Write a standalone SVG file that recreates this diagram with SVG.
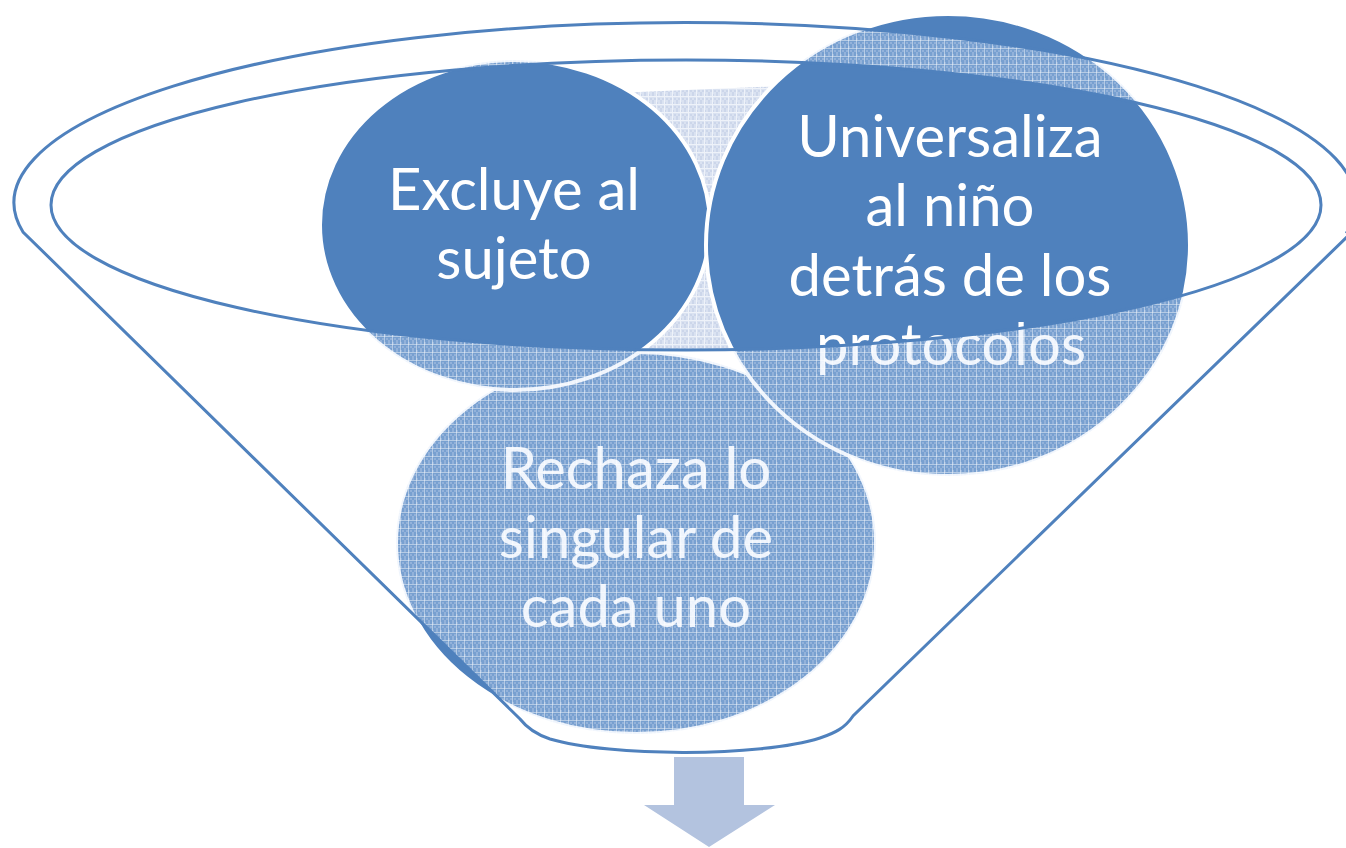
<svg xmlns="http://www.w3.org/2000/svg" width="1346" height="848" viewBox="0 0 1346 848">
<style>
.circle{fill:#4F81BD;stroke:#FFFFFF;stroke-width:4}
.label{font-family:Lato,"Open Sans","Liberation Sans",sans-serif;font-size:58px;fill:#FFFFFF;text-anchor:middle}
.rim{fill:none;stroke:#4F81BD;stroke-width:3}
</style>
<defs>
<pattern id="glass" width="8" height="8" patternUnits="userSpaceOnUse">
<rect width="8" height="8" fill="#CCDCF4" fill-opacity="0.33"/>
<path d="M2 2h2v2h-2zM6 2h2v2h-2zM4 4h2v2h-2zM0 6h2v2h-2zM4 6h2v2h-2z" fill="#FFFFFF" fill-opacity="0.2"/>
<rect width="8" height="1" fill="#FFFFFF" fill-opacity="0.45"/>
<rect width="1" height="8" fill="#FFFFFF" fill-opacity="0.45"/>
</pattern>
<pattern id="light" width="8" height="8" patternUnits="userSpaceOnUse">
<rect width="8" height="8" fill="#DAE2F1"/>
<path d="M2 2h2v2h-2zM6 2h2v2h-2zM4 4h2v2h-2zM0 6h2v2h-2zM4 6h2v2h-2z" fill="#CCD6EA"/>
<rect width="8" height="1" fill="#EEF2F9"/>
<rect width="1" height="8" fill="#EEF2F9"/>
</pattern>
<clipPath id="innerClip"><ellipse cx="686" cy="205" rx="635" ry="145"/></clipPath>
<clipPath id="circlesClip">
<ellipse cx="636" cy="543" rx="240" ry="191"/>
<ellipse cx="515" cy="225" rx="195" ry="165"/>
<ellipse cx="948" cy="245" rx="242" ry="231"/>
</clipPath>
</defs>
<rect width="1346" height="848" fill="#FFFFFF"/>
<g id="inner-surface">
<polygon points="615,93 785,86 785,362 615,362" fill="url(#light)" clip-path="url(#innerClip)"/>
</g>
<g id="node-rechaza">
<ellipse class="circle" cx="636" cy="543" rx="240" ry="191"/>
<text class="label" x="636" y="489">Rechaza lo</text>
<text class="label" x="636" y="558">singular de</text>
<text class="label" x="636" y="627">cada uno</text>
</g>
<g id="node-excluye">
<ellipse class="circle" cx="515" cy="225" rx="195" ry="165"/>
<text class="label" x="514" y="210">Excluye al</text>
<text class="label" x="514" y="279">sujeto</text>
</g>
<g id="node-universaliza">
<ellipse class="circle" cx="948" cy="245" rx="242" ry="231"/>
<text class="label" x="950" y="157">Universaliza</text>
<text class="label" x="950" y="226">al niño</text>
<text class="label" x="950" y="296">detrás de los</text>
<text class="label" x="951" y="365">protocolos</text>
</g>
<g id="funnel">
<path d="M23 232 A671 180 0 1 1 1347 232 L1350 234 L853 716 C845 728 835 733 820 738 C760 757 610 757 550 739 C535 734 527 728 520 719 Z M51 205 A635 145 0 1 0 1321 205 A635 145 0 1 0 51 205 Z" fill="url(#glass)" fill-rule="evenodd" clip-path="url(#circlesClip)"/>
<path class="rim" d="M23 232 A671 180 0 1 1 1347 232 L1350 234 L853 716 C845 728 835 733 820 738 C760 757 610 757 550 739 C535 734 527 728 520 719 Z"/>
<ellipse class="rim" cx="686" cy="205" rx="635" ry="145"/>
</g>
<g id="connectors">
<polygon points="674,757 744,757 744,805 775,805 709,847 644,805 674,805" fill="#B3C3DF"/>
</g>
</svg>
